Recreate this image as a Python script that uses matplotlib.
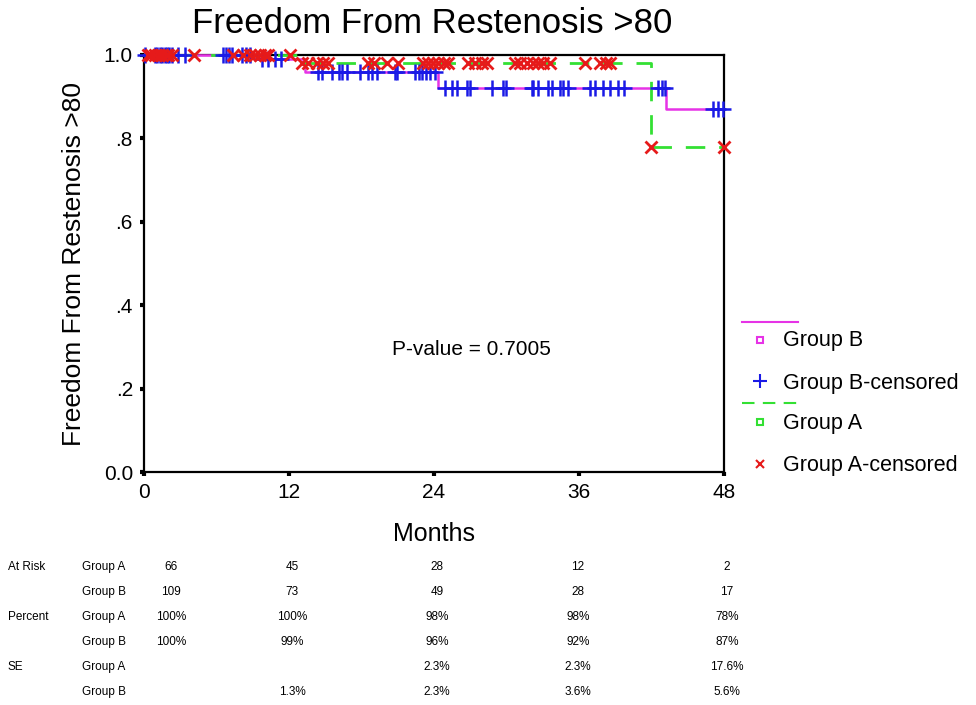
import numpy as np
import matplotlib
matplotlib.use("Agg")
import matplotlib.pyplot as plt
from matplotlib.lines import Line2D

plt.rcParams['font.family'] = ['Liberation Sans', 'DejaVu Sans']

# ---------------- data ----------------
# Kaplan-Meier step functions (time in months, survival after step)
b_times = [0, 9.4, 13.3, 24.3, 43.2]
b_surv = [1.0, 0.99, 0.96, 0.92, 0.87]
a_times = [0, 12.7, 42.0]
a_surv = [1.0, 0.98, 0.78]
end_time = 48

b_censored = [0.1, 0.9, 1.1, 1.3, 1.5, 1.7, 1.9, 2.1, 2.3, 2.8, 3.4,
               6.5, 6.8, 7.0, 7.3, 8.1, 8.4, 8.8, 9.8, 10.3, 10.8, 11.3,
               14.4, 14.7, 15.6, 16.1, 16.4, 16.8, 17.9, 18.5, 18.9, 19.3,
               20.8, 20.9, 22.4, 22.8, 23.0, 23.3, 23.7, 24.1,
               24.9, 25.5, 25.9, 26.7, 27.0, 28.8, 29.7, 30.0, 32.1, 32.2,
               32.6, 33.4, 33.8, 34.4, 34.7, 35.1, 36.9, 37.3, 38.0, 38.6,
               39.2, 39.7, 42.5, 42.9, 43.1, 47.1, 47.5, 47.9]
a_censored = [0.3, 0.6, 0.9, 1.2, 1.5, 1.8, 2.0, 2.3, 4.1, 7.4, 8.2,
               8.8, 9.2, 9.6, 10.0, 10.3, 12.1,
               13.1, 13.6, 14.3, 14.8, 15.2, 18.5, 19.0, 20.1, 21.0, 23.1,
               23.5, 23.9, 24.3, 24.8, 25.2, 26.8, 27.4, 28.0, 28.4, 30.7,
               31.1, 31.7, 32.2, 32.6, 33.0, 33.6, 36.5, 37.7, 38.2, 38.6,
               42.0, 48.0]

x_ticks = [0, 12, 24, 36, 48]
x_ticklabels = ["0", "12", "24", "36", "48"]
y_ticks = [0.0, 0.2, 0.4, 0.6, 0.8, 1.0]
y_ticklabels = ["0.0", ".2", ".4", ".6", ".8", "1.0"]

p_value_text = "P-value = 0.7005"

table_row_labels = ["At Risk", "", "Percent", "", "SE", ""]
table_groups = ["Group A", "Group B", "Group A", "Group B", "Group A", "Group B"]
table_values = [
    ["66", "45", "28", "12", "2"],
    ["109", "73", "49", "28", "17"],
    ["100%", "100%", "98%", "98%", "78%"],
    ["100%", "99%", "96%", "92%", "87%"],
    ["", "", "2.3%", "2.3%", "17.6%"],
    ["", "1.3%", "2.3%", "3.6%", "5.6%"],
]

# ---------------- colours ----------------
c_b = "#e633e6"
c_bc = "#1a1ae6"
c_a = "#33e033"
c_ac = "#e61a1a"

W, H = 976, 705
fig = plt.figure(figsize=(W / 100, H / 100), dpi=100)

def fx(px):
    return px / W

def fy(py):
    return 1 - py / H

ax = fig.add_axes([fx(144), fy(472), fx(724) - fx(144), fy(55) - fy(472)])


def step_value(times, surv, t):
    idx = np.searchsorted(times, t, side='right') - 1
    return np.asarray(surv)[idx]


def step_xy(times, surv, end):
    xs = list(times) + [end]
    ys = list(surv) + [surv[-1]]
    return xs, ys

bx, by = step_xy(b_times, b_surv, end_time)
axx, ayy = step_xy(a_times, a_surv, end_time)

ax.step(bx, by, where='post', color=c_b, lw=1.8, clip_on=False, zorder=3)
ax.step(axx, ayy, where='post', color=c_a, lw=2.0, dashes=(7, 5),
        clip_on=False, zorder=3)

bc_y = [step_value(b_times, b_surv, t) for t in b_censored]
ac_y = [step_value(a_times, a_surv, t) for t in a_censored]
ax.plot(b_censored, bc_y, ls='none', marker='+', ms=11, mew=1.8,
        color=c_bc, clip_on=False, zorder=4)
ax.plot(a_censored, ac_y, ls='none', marker='x', ms=8, mew=2.0,
        color=c_ac, clip_on=False, zorder=5)

ax.set_xlim(0, 48)
ax.set_ylim(0, 1)
ax.set_xticks(x_ticks)
ax.set_xticklabels(x_ticklabels)
ax.set_yticks(y_ticks)
ax.set_yticklabels(y_ticklabels)
for s in ax.spines.values():
    s.set_linewidth(1.6)
    s.set_color('black')
ax.tick_params(direction='out', length=3, width=3, labelsize=15, pad=5,
               colors='black')

ax.set_xlabel("Months", fontsize=18, labelpad=14)
ax.set_ylabel("Freedom From Restenosis >80", fontsize=19, labelpad=13)
fig.text(fx(432), fy(33), "Freedom From Restenosis >80",
         ha='center', va='baseline', fontsize=25)

ax.text(0.565, 0.293, p_value_text, transform=ax.transAxes,
        ha='center', va='center', fontsize=15)

# ---------------- legend ----------------
leg_fs = 15.5
fig.add_artist(Line2D([fx(742), fx(798)], [fy(322), fy(322)], color=c_b, lw=1.5))
fig.add_artist(Line2D([fx(760)], [fy(340)], ls='none', marker='s', ms=5,
                      mfc='none', mec=c_b, mew=1.5))
fig.text(fx(783), fy(341), "Group B", fontsize=leg_fs, va='center')
fig.add_artist(Line2D([fx(760)], [fy(381)], ls='none', marker='+', ms=10,
                      mew=1.5, color=c_bc))
fig.text(fx(783), fy(383), "Group B-censored", fontsize=leg_fs, va='center')
fig.add_artist(Line2D([fx(742), fx(798)], [fy(403), fy(403)], color=c_a, lw=1.5,
                      dashes=(6, 4)))
fig.add_artist(Line2D([fx(760)], [fy(422)], ls='none', marker='s', ms=5,
                      mfc='none', mec=c_a, mew=1.5))
fig.text(fx(783), fy(424), "Group A", fontsize=leg_fs, va='center')
fig.add_artist(Line2D([fx(760)], [fy(464)], ls='none', marker='x', ms=6,
                      mew=1.5, color=c_ac))
fig.text(fx(783), fy(466), "Group A-censored", fontsize=leg_fs, va='center')

# ---------------- table ----------------
row_y = [567, 592, 617, 642, 667, 692]
col_x = [171, 292, 437, 578, 727]
tfs = 8.5
for i, yy in enumerate(row_y):
    if table_row_labels[i]:
        fig.text(fx(8), fy(yy), table_row_labels[i], fontsize=tfs, va='center')
    fig.text(fx(82), fy(yy), table_groups[i], fontsize=tfs, va='center')
    for j, v in enumerate(table_values[i]):
        if v:
            fig.text(fx(col_x[j]), fy(yy), v, fontsize=tfs, va='center', ha='center')

fig.savefig("out.png", dpi=100)
